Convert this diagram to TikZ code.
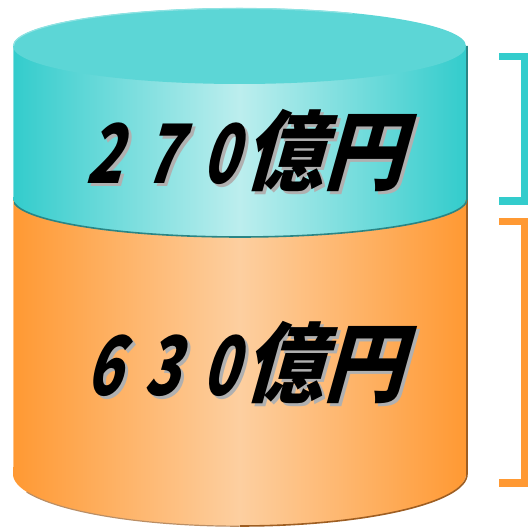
\documentclass[tikz,border=0pt]{standalone}
\usepackage{fontspec}
\newfontfamily\jpfont[FakeSlant=0.28, FakeStretch=0.92]{Noto Sans CJK JP}
\newfontfamily\digitfont[FakeSlant=0.28, FakeStretch=0.72]{Noto Sans CJK JP}
\definecolor{tealedge}{HTML}{33CCCC}
\definecolor{tealmid}{HTML}{BCEEEE}
\definecolor{tealtop}{HTML}{5CD6D6}
\definecolor{tealrim}{HTML}{8FE2E2}
\definecolor{tealdark}{HTML}{2A8585}
\definecolor{orangeedge}{HTML}{FF9933}
\definecolor{orangemid}{HTML}{FDCFA0}
\definecolor{orangedark}{HTML}{9E5E22}
\definecolor{shadowgray}{HTML}{B0B0B0}
\tikzset{
  amount/.style={font=\bfseries, inner sep=0pt, anchor=base west},
  bracket/.style={line width=7.5pt, line join=miter, line cap=butt},
}
% digits set narrow and spaced out, followed by the unit
\newcommand{\yenbody}[3]{{\digitfont\fontsize{82}{82}\selectfont #1\hspace{22pt}#2\hspace{22pt}#3}\hspace{6pt}{\jpfont\fontsize{87}{87}\selectfont 億円}}
% the same text with a grey drop shadow behind it
\newcommand{\yen}[3]{\makebox[0pt][l]{\hspace{3pt}\raisebox{-3pt}{\color{shadowgray}\yenbody{#1}{#2}{#3}}}\yenbody{#1}{#2}{#3}}
\begin{document}
\begin{tikzpicture}[x=1pt,y=1pt]
\useasboundingbox (0,0) rectangle (528,527);
% lower (orange) section of the cylinder
\shade[left color=orangeedge, right color=orangeedge, middle color=orangemid]
  (13,328) -- (13,53) arc[start angle=180, end angle=360, x radius=226.5, y radius=52] -- (466,328) -- cycle;
\draw[orangedark, line width=1.6pt]
  (467,328) -- (467,53) arc[start angle=0, end angle=-90, x radius=227, y radius=52];
\draw[orangedark!70, line width=1.2pt]
  (239.5,0.8) arc[start angle=270, end angle=200, x radius=226.5, y radius=52];
% upper (teal) section
\shade[left color=tealedge, right color=tealedge, middle color=tealmid]
  (13,481) -- (13,328) arc[start angle=180, end angle=360, x radius=226.5, y radius=38] -- (466,481) -- cycle;
\draw[tealdark, line width=1.6pt]
  (467,481) -- (467,328) arc[start angle=0, end angle=-90, x radius=227, y radius=38]
  arc[start angle=270, end angle=185, x radius=227, y radius=38];
\draw[white!40!tealedge, line width=1pt] (13.5,481) -- (13.5,330);
\draw[white!40!orangeedge, line width=1pt] (13.5,326) -- (13.5,60);
% top face
\fill[tealtop] (239.5,481) ellipse[x radius=226.5, y radius=38];
\draw[tealrim, line width=1.2pt]
  (13.5,481) arc[start angle=180, end angle=60, x radius=226, y radius=37.5];
% amounts
\node[amount] (t1) at (85,343) {\yen{2}{7}{0}};
\node[amount] (t2) at (85,131) {\yen{6}{3}{0}};
% brackets on the right
\coordinate (b1a) at (499,470.5);
\coordinate (b1b) at (524.5,470.5);
\coordinate (b1c) at (524.5,326);
\coordinate (b1d) at (499,326);
\draw[bracket, tealedge] (b1a) -- (b1b) -- (b1c) -- (b1d);
\coordinate (b2a) at (499,305.5);
\coordinate (b2b) at (524.5,305.5);
\coordinate (b2c) at (524.5,44);
\coordinate (b2d) at (499,44);
\draw[bracket, orangeedge] (b2a) -- (b2b) -- (b2c) -- (b2d);
\end{tikzpicture}
\end{document}
